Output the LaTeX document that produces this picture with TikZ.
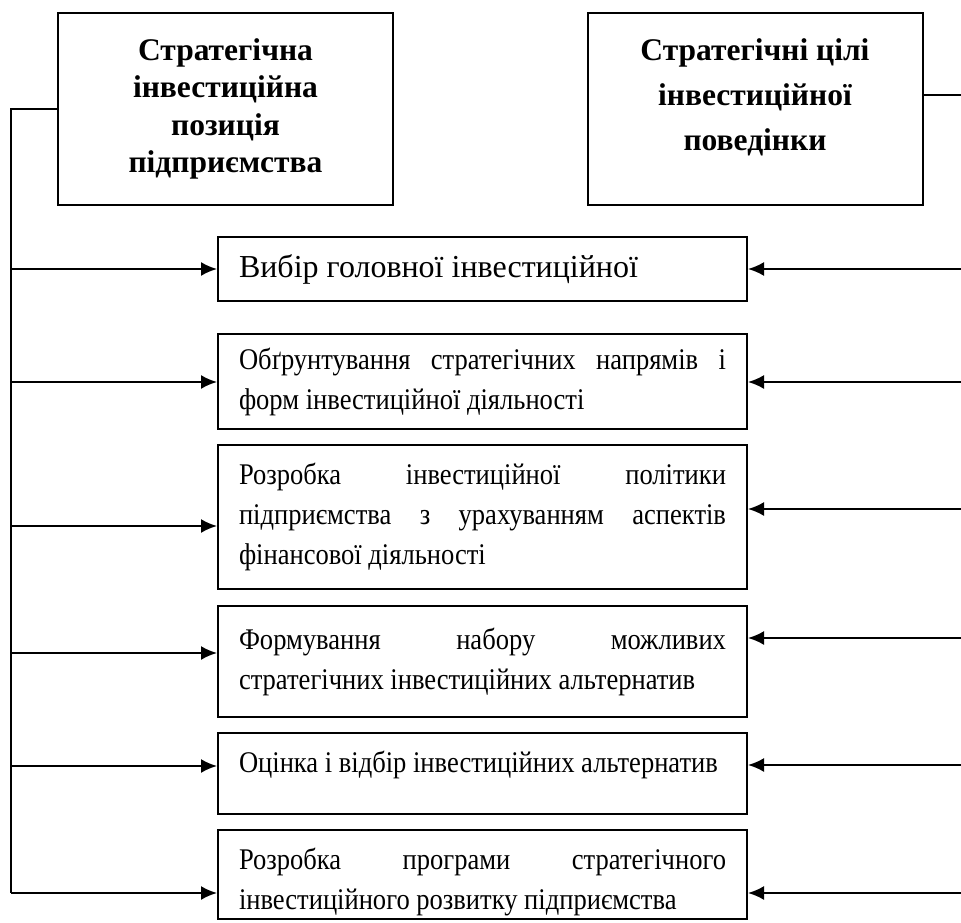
\documentclass[tikz,border=0pt]{standalone}
\usepackage{fontspec}
\setmainfont{Liberation Serif}
\newfontfamily\narrowserif[FakeStretch=0.885]{Liberation Serif}
\usetikzlibrary{arrows.meta}
\begin{document}
\begin{tikzpicture}[
    x=1pt, y=-1pt,
    box/.style={draw=black, line width=2pt, rectangle, inner sep=0pt},
    title/.style={box, minimum width=335pt, minimum height=192pt, align=center,
                  font=\fontsize{31.5}{37.5}\selectfont\bfseries},
    stepbox/.style={box, minimum width=529pt, text width=487pt, align=justify,
                    font=\narrowserif\fontsize{30}{40}\selectfont},
    bus/.style={draw, line width=2pt},
    arrow/.style={draw, line width=2pt, -{Latex[length=16pt,width=14pt]}}
]
\useasboundingbox (0,0) rectangle (961,923);

% ===== Top blocks =====
\node[title] (pos) at (225.5,109) {Стратегічна\\інвестиційна\\позиція\\підприємства};
\node[title, font=\fontsize{31.5}{45}\selectfont\bfseries, text depth=28pt] (goal) at (755,109)
    {Стратегічні цілі\\інвестиційної\\поведінки};

% ===== Steps =====
\node[stepbox, minimum height=64pt, font=\fontsize{32}{40}\selectfont] (s1) at (482.5,269)
    {Вибір головної інвестиційної};
\node[stepbox, minimum height=95pt] (s2) at (482.5,381.5)
    {Обґрунтування стратегічних напрямів і форм інвестиційної діяльності};
\node[stepbox, minimum height=144pt] (s3) at (482.5,517)
    {Розробка інвестиційної політики підприємства з урахуванням аспектів фінансової діяльності};
\node[stepbox, minimum height=111pt] (s4) at (482.5,661.5)
    {Формування набору можливих\linebreak стратегічних інвестиційних альтернатив};
\node[stepbox, minimum height=81pt, text depth=24pt] (s5) at (482.5,773.5)
    {Оцінка і відбір інвестиційних альтернатив};
\node[stepbox, minimum height=89pt, text height=36pt] (s6) at (482.5,874.5)
    {Розробка програми стратегічного інвестиційного розвитку підприємства};

% ===== Buses =====
\coordinate (ltop) at (11,109);
\coordinate (lbot) at (11,893);
\coordinate (rtop) at (964,95);
\coordinate (rbot) at (964,893);
\draw[bus] (pos.west) -- (ltop) -- (lbot);
\draw[bus] (goal.east |- rtop) -- (rtop) -- (rbot);

% arrows from both buses to every step
\foreach \b/\ly/\ry in {s1/269/269, s2/382/382, s3/526/509, s4/653/638, s5/766/765, s6/893/893} {
    \coordinate (L\b) at (ltop |- 0,\ly);
    \coordinate (R\b) at (rtop |- 0,\ry);
    \draw[arrow] (L\b) -- (\b.west |- L\b);
    \draw[arrow] (R\b) -- (\b.east |- R\b);
}

\end{tikzpicture}
\end{document}
